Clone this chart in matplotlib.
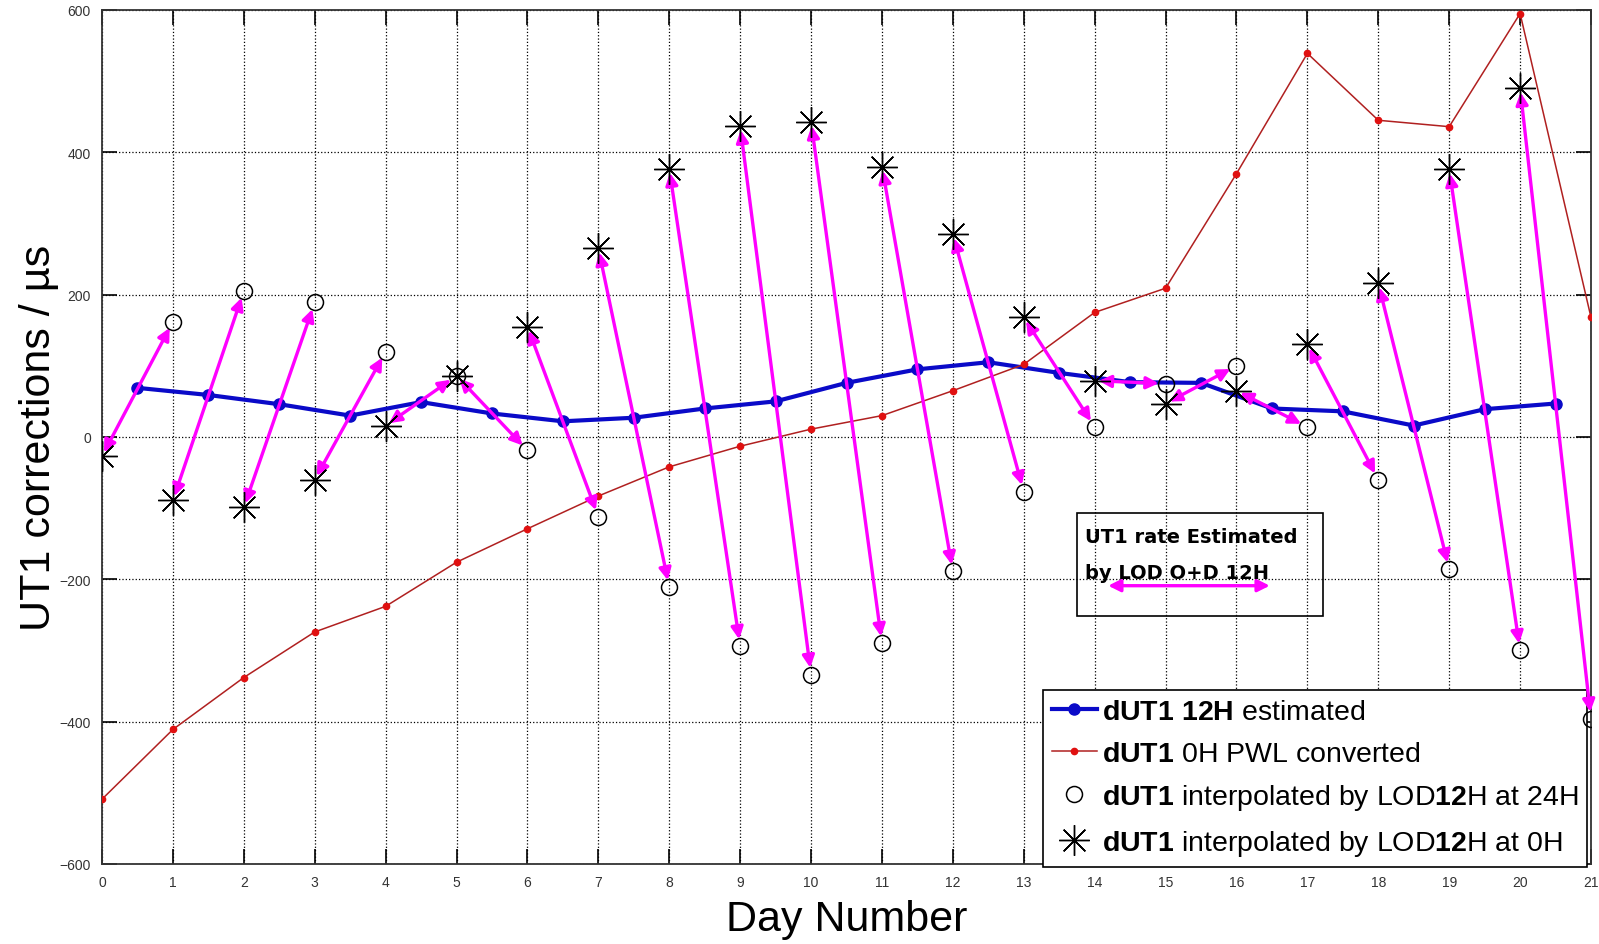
import numpy as np
import matplotlib
matplotlib.use("Agg")
import matplotlib.pyplot as plt
from matplotlib.patches import Rectangle

plt.rcParams['font.family'] = ['Liberation Sans', 'DejaVu Sans']
plt.rcParams['mathtext.fontset'] = 'custom'
plt.rcParams['mathtext.rm'] = 'Liberation Sans'
plt.rcParams['mathtext.bf'] = 'Liberation Sans:bold'
plt.rcParams['mathtext.it'] = 'Liberation Sans:italic'

# ---- data ----
days_half = [0.5, 1.5, 2.5, 3.5, 4.5, 5.5, 6.5, 7.5, 8.5, 9.5, 10.5,
             11.5, 12.5, 13.5, 14.5, 15.5, 16.5, 17.5, 18.5, 19.5, 20.5]
dut1_12h = [69, 59, 46, 30, 49, 33, 22, 27, 40, 50, 76,
            95, 105, 90, 77, 76, 40, 36, 16, 39, 47]

days_all = list(range(0, 22))
dut1_0h_pwl = [-509, -411, -338, -274, -238, -176, -129, -83, -42, -13, 11,
               30, 65, 102, 175, 209, 370, 539, 445, 436, 595, 168]

days_24h = list(range(1, 22))
dut1_24h = [162, 205, 189, 120, 86, -19, -112, -211, -294, -334, -290,
            -189, -77, 14, 75, 100, 14, -60, -186, -300, -396]

days_0h = list(range(0, 21))
dut1_0h = [-27, -89, -99, -60, 16, 86, 155, 265, 377, 437, 443,
           380, 285, 168, 79, 47, 65, 130, 216, 376, 490]

x_ticks = list(range(0, 22))
y_ticks = [-600, -400, -200, 0, 200, 400, 600]

# ---- figure ----
fig = plt.figure(figsize=(15.99, 9.45), dpi=100)
ax = fig.add_axes([0.0638, 0.0847, 0.9312, 0.9037])

ax.set_xlim(0, 21)
ax.set_ylim(-600, 600)
ax.set_xticks(x_ticks)
ax.set_yticks(y_ticks)
ax.tick_params(direction='in', length=11, width=1.2, top=True, right=True,
               labelsize=10, labelcolor='#333333', pad=8)
ax.grid(True, linestyle=':', color='black', linewidth=0.9)
for s in ax.spines.values():
    s.set_linewidth(1.3)
    s.set_color('#333333')

# arrows from 0H star to next-day 24H circle
for d, y0 in zip(days_0h, dut1_0h):
    idx = days_24h.index(d + 1)
    ax.annotate('', xy=(d + 1, dut1_24h[idx]), xytext=(d, y0),
                arrowprops=dict(arrowstyle='<|-|>', color='#ff00ff', lw=2.4,
                                mutation_scale=18, shrinkA=3, shrinkB=5),
                zorder=4)

ax.plot(days_half, dut1_12h, color='#0a0ac8', lw=3, marker='o', ms=8,
        zorder=3, label=r'$\mathbf{dUT1\ 12H}$ estimated')
ax.plot(days_all, dut1_0h_pwl, color='#b02020', lw=1.1, marker='o', ms=4.5,
        mfc='#e01010', mec='#e01010', zorder=3,
        label=r'$\mathbf{dUT1}$ 0H PWL converted')
ax.plot(days_24h, dut1_24h, linestyle='none', marker='o', ms=11.5, mfc='none',
        mec='black', mew=1.1, zorder=5,
        label=r'$\mathbf{dUT1}$ interpolated by LOD$\mathbf{12}$H at 24H')
ax.plot(days_0h, dut1_0h, linestyle='none', marker=(8, 2, 0), ms=22,
        color='black', mew=1.0, zorder=5,
        label=r'$\mathbf{dUT1}$ interpolated by LOD$\mathbf{12}$H at 0H')

# annotation box
ax.add_patch(Rectangle((13.75, -251.5), 3.47, 144.5, fill=False,
                       edgecolor='black', lw=1.2, zorder=6))
ax.text(13.87, -140, 'UT1 rate Estimated', fontsize=14, fontweight='bold',
        family='DejaVu Sans', va='center', ha='left', zorder=7)
ax.text(13.87, -190, 'by LOD O+D 12H', fontsize=14, fontweight='bold',
        family='DejaVu Sans', va='center', ha='left', zorder=7)
ax.annotate('', xy=(16.47, -209), xytext=(14.19, -209),
            arrowprops=dict(arrowstyle='<|-|>', color='#ff00ff', lw=2.4,
                            mutation_scale=18, shrinkA=0, shrinkB=0),
            zorder=7)

leg = ax.legend(loc='lower right', bbox_to_anchor=(0.997, -0.003),
                borderaxespad=0, fontsize=20.5, frameon=True, fancybox=False,
                edgecolor='black', framealpha=1, labelspacing=0.55,
                handlelength=1.6, handletextpad=0.15, borderpad=0.3)
leg.get_frame().set_linewidth(1.2)
leg.set_zorder(3.5)

ax.set_xlabel('Day Number', fontsize=31)
ax.set_ylabel('UT1 corrections / µs', fontsize=31)
ax.xaxis.label.set_va('center')
ax.yaxis.label.set_va('center')
ax.xaxis.set_label_coords(0.5, -0.0644)
ax.yaxis.set_label_coords(-0.0425, 0.5)

fig.savefig('out.png', dpi=100)
